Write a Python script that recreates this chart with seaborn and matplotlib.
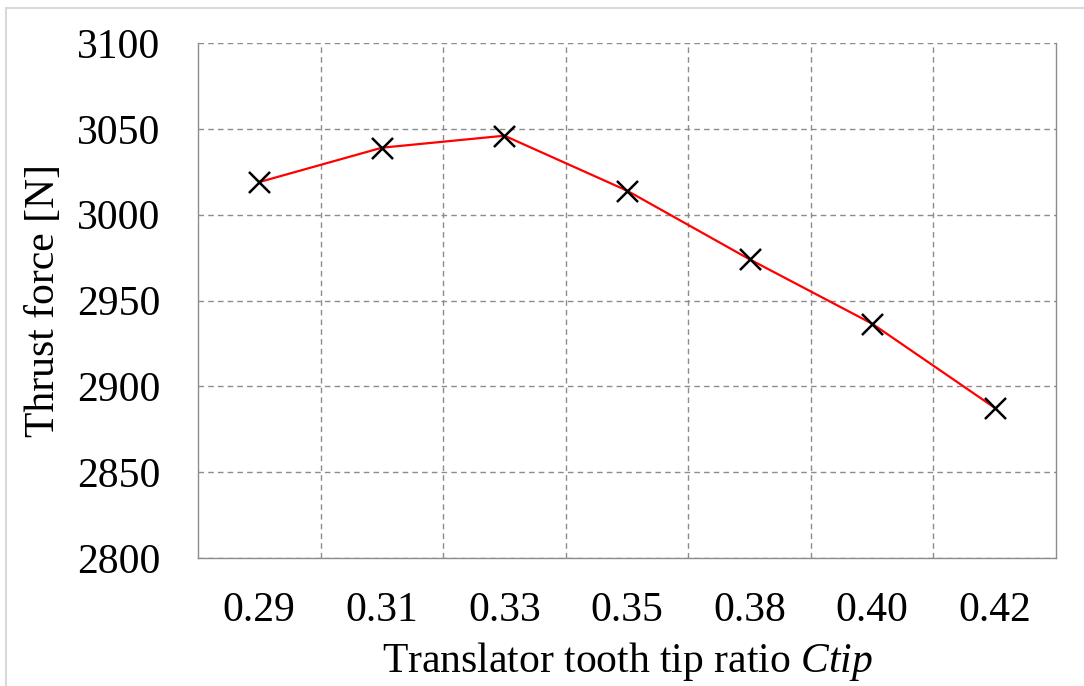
import matplotlib
matplotlib.use("Agg")
import matplotlib.pyplot as plt
from matplotlib.lines import Line2D
from matplotlib.ticker import FixedLocator
import seaborn as sns
import pandas as pd

# Translator tooth tip ratio vs. thrust force
ctip_labels = ["0.29", "0.31", "0.33", "0.35", "0.38", "0.40", "0.42"]
thrust_force = [3019, 3039, 3046, 3014, 2974, 2936.5, 2887.5]
y_ticks = [2800, 2850, 2900, 2950, 3000, 3050, 3100]

df = pd.DataFrame({"ctip": ctip_labels, "force": thrust_force})

sns.set_theme(style="white")
plt.rcParams["font.family"] = ["Liberation Serif", "DejaVu Serif"]
plt.rcParams["mathtext.fontset"] = "custom"
plt.rcParams["mathtext.it"] = "Liberation Serif:italic"
plt.rcParams["mathtext.rm"] = "Liberation Serif"

W, H = 1084, 686
fig = plt.figure(figsize=(W / 100, H / 100), dpi=100)
ax = fig.add_axes([198 / W, 1 - 558 / H, (1056 - 198) / W, (558 - 43) / H])

sns.lineplot(data=df, x="ctip", y="force", ax=ax, color="#ff0000",
             linewidth=1.6, sort=False, zorder=3)
sns.scatterplot(data=df, x="ctip", y="force", ax=ax, marker="x",
                color="black", s=230, linewidth=1.8, zorder=4)

ax.set_xlim(-0.5, len(ctip_labels) - 0.5)
ax.set_ylim(2800, 3100)
ax.set_yticks(y_ticks)
ax.set_xticks(range(len(ctip_labels)))
ax.set_xticklabels(ctip_labels)

# Grid: horizontal at every y tick, vertical between categories
ax.xaxis.set_minor_locator(FixedLocator([i + 0.5 for i in range(len(ctip_labels) - 1)]))
ax.grid(False)
ax.yaxis.grid(True, which="major", color="#8c8c8c", linestyle=(0, (4, 3)), linewidth=1.0)
ax.xaxis.grid(True, which="minor", color="#8c8c8c", linestyle=(0, (4, 3)), linewidth=1.0)
ax.set_axisbelow(True)

ax.tick_params(axis="both", which="both", length=0, labelsize=30, colors="black")
ax.tick_params(axis="x", pad=24)
ax.tick_params(axis="y", pad=27)

for side in ["left", "bottom", "right"]:
    ax.spines[side].set_visible(True)
    ax.spines[side].set_color("#8c8c8c")
    ax.spines[side].set_linewidth(1.0)
ax.spines["top"].set_visible(False)

ax.set_xlabel("Translator tooth tip ratio $\\mathit{Ctip}$", fontsize=30,
              labelpad=7, color="black")
ax.set_ylabel("Thrust force [N]", fontsize=30, labelpad=10, color="black")

# Light frame around the figure
fig.add_artist(Line2D([6 / W, 6 / W], [0, 1 - 8 / H], transform=fig.transFigure,
                      color="#d9d9d9", linewidth=1.5))
fig.add_artist(Line2D([6 / W, 1], [1 - 8 / H, 1 - 8 / H], transform=fig.transFigure,
                      color="#d9d9d9", linewidth=1.5))

fig.savefig("out.png", dpi=100, facecolor="white")
